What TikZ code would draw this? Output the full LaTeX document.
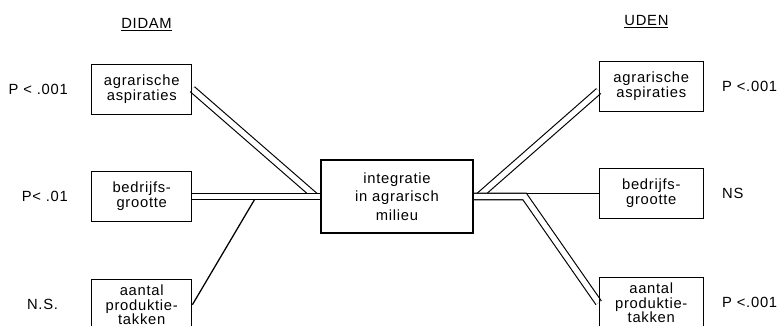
\documentclass[tikz,border=0pt]{standalone}
\usepackage{fontspec}
\setmainfont{Liberation Sans}[LetterSpace=5]
\usepackage{tikz}
\usetikzlibrary{positioning}
\usetikzlibrary{calc, backgrounds}
\tikzstyle{factor} = [rectangle, minimum width=2.5cm, minimum height=1.25cm, inner sep=1pt, text centered, align=center, draw=black, line width=0.9pt]
\tikzstyle{central} = [rectangle, minimum width=3.8cm, minimum height=1.825cm, text centered, align=center, draw=black, line width=0.9pt, font=\fontsize{10.5}{13}\selectfont]
\tikzstyle{plabel} = [inner sep=0pt]
\tikzstyle{strong} = [line width=0.8pt, double, double distance=3.8pt]
\tikzstyle{weak} = [line width=0.9pt]
\tikzstyle{every node}=[font=\fontsize{10.5}{10.5}\selectfont]

\begin{document}
\begin{tikzpicture}
		\useasboundingbox (0,0) rectangle (19.6,-8.15);
		\node (integ) [central] at (9.925,-4.9125) {integratie\\in agrarisch\\milieu};
		% DIDAM
		\node (dmid) [factor, left=3.2cm of integ] {bedrijfs-\\grootte};
		\node (dtop) [factor, above=1.4cm of dmid] {agrarische\\aspiraties};
		\node (dbot) [factor, below=1.425cm of dmid] {aantal\\produktie-\\takken};
		\node (didam) [plabel, above=0.8cm of dtop, xshift=0.12cm] {\underline{DIDAM}};
		\node (pdtop) [plabel, left=0.575cm of dtop] {P < .001};
		\node (pdmid) [plabel, left=0.575cm of dmid] {P< .01};
		\node (pdbot) [plabel, left=0.82cm of dbot] {N.S.};
		% UDEN
		\node (umid) [factor, minimum width=2.6cm, right=3.125cm of integ, yshift=0.075cm] {bedrijfs-\\grootte};
		\node (utop) [factor, minimum width=2.6cm, above=1.4cm of umid] {agrarische\\aspiraties};
		\node (ubot) [factor, minimum width=2.6cm, below=1.45cm of umid] {aantal\\produktie-\\takken};
		\node (uden) [plabel, above=0.8cm of utop, xshift=-0.12cm] {\underline{UDEN}};
		\node (putop) [plabel, right=0.45cm of utop] {P <.001};
		\node (pumid) [plabel, right=0.45cm of umid] {NS};
		\node (pubot) [plabel, right=0.45cm of ubot] {P <.001};
		\coordinate (jl) at ($(dmid.east)!0.5!(integ.west)$);
		\coordinate (jr) at ($(integ.east)+(1.275,0)$);
		\begin{scope}[on background layer]
		\draw [strong](dtop.east) -- ([xshift=-0.12cm]integ.west);
		\draw [weak](dbot.east) -- (jl);
		\draw [strong](dmid.east) -- (integ.west);
		\draw [strong]([xshift=0.12cm]integ.east) -- ([yshift=-0.12cm]utop.west);
		\draw [weak](umid.west) -- (umid.west -| jr);
		\draw [strong](integ.east) -- (jr) -- (ubot.west);
		\end{scope}
	\end{tikzpicture}
\end{document}
